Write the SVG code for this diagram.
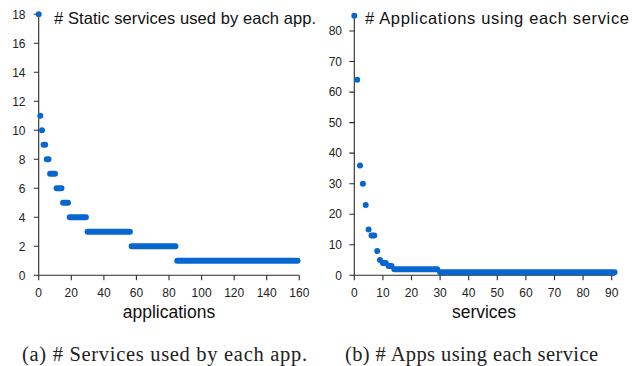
<svg xmlns="http://www.w3.org/2000/svg" width="632" height="366" viewBox="0 0 632 366">
<style>
.ax{stroke:#2b2b2b;stroke-width:1.1;fill:none}
.tk{font-family:"Liberation Sans",Arial,sans-serif;font-size:12px;fill:#222}
.yl{text-anchor:end}
.xl{text-anchor:middle}
.ttl{font-family:"Liberation Sans",Arial,sans-serif;font-size:16.5px;fill:#111}
.lab{font-family:"Liberation Sans",Arial,sans-serif;font-size:17.5px;fill:#111;text-anchor:middle}
.cap{font-family:"Liberation Serif","Times New Roman",serif;font-size:20.5px;fill:#222}
.d{stroke:#0766cf;stroke-width:6;stroke-linecap:round;fill:none}
</style>
<g id="chart-a">
<g id="axes-a">
<path class="ax" d="M38.7,14.3V275.3H299.3"/>
<path class="ax" d="M33.7,275.3h5M33.7,246.3h5M33.7,217.3h5M33.7,188.3h5M33.7,159.3h5M33.7,130.3h5M33.7,101.3h5M33.7,72.3h5M33.7,43.3h5M33.7,14.3h5"/>
<path class="ax" d="M38.7,275.3v5M71.3,275.3v5M103.9,275.3v5M136.4,275.3v5M169,275.3v5M201.6,275.3v5M234.2,275.3v5M266.7,275.3v5M299.3,275.3v5"/>
</g>
<g id="yticks-a" class="tk yl">
<text x="25.5" y="279.5">0</text>
<text x="25.5" y="250.5">2</text>
<text x="25.5" y="221.5">4</text>
<text x="25.5" y="192.5">6</text>
<text x="25.5" y="163.5">8</text>
<text x="25.5" y="134.5">10</text>
<text x="25.5" y="105.5">12</text>
<text x="25.5" y="76.5">14</text>
<text x="25.5" y="47.5">16</text>
<text x="25.5" y="18.5">18</text>
</g>
<g id="xticks-a" class="tk xl">
<text x="38.7" y="296.5">0</text>
<text x="71.3" y="296.5">20</text>
<text x="103.9" y="296.5">40</text>
<text x="136.4" y="296.5">60</text>
<text x="169" y="296.5">80</text>
<text x="201.6" y="296.5">100</text>
<text x="234.2" y="296.5">120</text>
<text x="266.7" y="296.5">140</text>
<text x="299.3" y="296.5">160</text>
</g>
<g id="data-a">
<path class="d" d="M38.7,14.3h0.01M40.3,115.8h0.01M42,130.3h0.01M43.6,144.8H45.2M46.8,159.3H48.5M50.1,173.8H55M56.6,188.3H61.5M63.1,202.8H68M69.7,217.3H85.9M87.6,231.8H129.9M131.6,246.3H175.5M177.2,260.8H297.5"/>
</g>
<text class="ttl" x="54" y="24" textLength="262" lengthAdjust="spacing"># Static services used by each app.</text>
<text class="lab" x="169" y="318">applications</text>
<text class="cap" x="22" y="361" textLength="285" lengthAdjust="spacing">(a) # Services used by each app.</text>
</g>
<g id="chart-b">
<g id="axes-b">
<path class="ax" d="M354.3,15.7V275.3H614.6"/>
<path class="ax" d="M349.3,275.3h5M349.3,244.8h5M349.3,214.2h5M349.3,183.7h5M349.3,153.1h5M349.3,122.6h5M349.3,92.1h5M349.3,61.5h5M349.3,31h5"/>
<path class="ax" d="M354.3,275.3v5M382.9,275.3v5M411.5,275.3v5M440.1,275.3v5M468.7,275.3v5M497.3,275.3v5M525.9,275.3v5M554.5,275.3v5M583.1,275.3v5M611.7,275.3v5"/>
</g>
<g id="yticks-b" class="tk yl">
<text x="342" y="279.5">0</text>
<text x="342" y="249">10</text>
<text x="342" y="218.4">20</text>
<text x="342" y="187.9">30</text>
<text x="342" y="157.3">40</text>
<text x="342" y="126.8">50</text>
<text x="342" y="96.3">60</text>
<text x="342" y="65.7">70</text>
<text x="342" y="35.2">80</text>
</g>
<g id="xticks-b" class="tk xl">
<text x="354.3" y="296.5">0</text>
<text x="382.9" y="296.5">10</text>
<text x="411.5" y="296.5">20</text>
<text x="440.1" y="296.5">30</text>
<text x="468.7" y="296.5">40</text>
<text x="497.3" y="296.5">50</text>
<text x="525.9" y="296.5">60</text>
<text x="554.5" y="296.5">70</text>
<text x="583.1" y="296.5">80</text>
<text x="611.7" y="296.5">90</text>
</g>
<g id="data-b">
<path class="d" d="M354.3,15.7h0.01M357.2,79.8h0.01M360,165.4h0.01M362.9,183.7h0.01M365.7,205.1h0.01M368.6,229.5h0.01M371.5,235.6H374.3M377.2,250.9h0.01M380,260h0.01M382.9,263.1H385.8M388.6,266.1H391.5M394.3,269.2H437.2M440.1,272.2H614.6"/>
</g>
<text class="ttl" x="365" y="24" textLength="264" lengthAdjust="spacing"># Applications using each service</text>
<text class="lab" x="484" y="318">services</text>
<text class="cap" x="345" y="361" textLength="253" lengthAdjust="spacing">(b) # Apps using each service</text>
</g>
</svg>
